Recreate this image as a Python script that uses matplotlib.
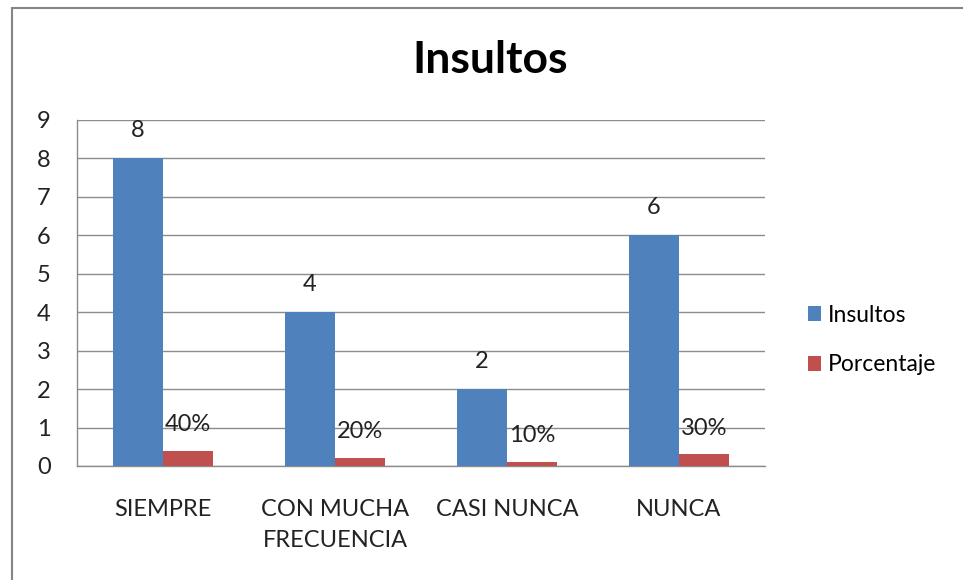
import matplotlib
matplotlib.use("Agg")
import matplotlib.pyplot as plt
import numpy as np
from matplotlib.patches import Rectangle

categories = ["SIEMPRE", "CON MUCHA\nFRECUENCIA", "CASI NUNCA", "NUNCA"]
insultos = [8, 4, 2, 6]
porcentaje = [0.4, 0.2, 0.1, 0.3]
porcentaje_labels = ["40%", "20%", "10%", "30%"]
yticks = list(range(0, 10))

plt.rcParams['font.family'] = ['Lato', 'DejaVu Sans']

W, H = 963, 580
FS = 17
fig = plt.figure(figsize=(W / 100, H / 100), dpi=100)
ax = fig.add_axes([77 / W, 1 - 466 / H, (765 - 77) / W, (466 - 120) / H])

x = np.arange(len(categories))
bw = 0.29
b1 = ax.bar(x - bw / 2, insultos, bw, color="#4F81BD", label="Insultos", zorder=3)
b2 = ax.bar(x + bw / 2, porcentaje, bw, color="#C0504D", label="Porcentaje", zorder=3)

for rect, v in zip(b1, insultos):
    ax.annotate(str(v), (rect.get_x() + rect.get_width() / 2, rect.get_height()),
                xytext=(0, 20), textcoords="offset points", ha="center", va="center",
                fontsize=FS, color="#222222")
for rect, lab in zip(b2, porcentaje_labels):
    ax.annotate(lab, (rect.get_x() + rect.get_width() / 2, rect.get_height()),
                xytext=(0, 19), textcoords="offset points", ha="center", va="center",
                fontsize=FS, color="#222222")

ax.set_xlim(-0.5, len(categories) - 0.5)
ax.set_ylim(0, 9)
ax.set_yticks(yticks)
ax.set_xticks(x)
ax.set_xticklabels(categories, fontsize=FS, color="#222222", linespacing=1.55)
ax.tick_params(axis='y', labelsize=FS, colors="#222222", length=0, pad=19)
ax.tick_params(axis='x', length=0, pad=24)
ax.grid(axis='y', color="#8c8c8c", linewidth=1.0, zorder=0)
for s in ["top", "right"]:
    ax.spines[s].set_visible(False)
for s in ["left", "bottom"]:
    ax.spines[s].set_color("#8c8c8c")
    ax.spines[s].set_linewidth(1.0)

fig.text(490 / W, 1 - 60 / H, "Insultos", ha="center", va="center",
         fontsize=32, fontweight="bold", color="black")

leg = fig.legend(handles=[b1, b2], labels=["Insultos", "Porcentaje"],
                 loc="center left", bbox_to_anchor=(787 / W, 1 - 340 / H),
                 frameon=False, fontsize=16.5, handlelength=0.6, handleheight=0.6,
                 handletextpad=0.3, labelspacing=1.25)

fig.add_artist(Rectangle((12 / W, -0.1), 1.2, 1 - 8 / H + 0.1, transform=fig.transFigure,
                         fill=False, edgecolor="#868686", linewidth=1.5))

fig.savefig("out.png", dpi=100)
